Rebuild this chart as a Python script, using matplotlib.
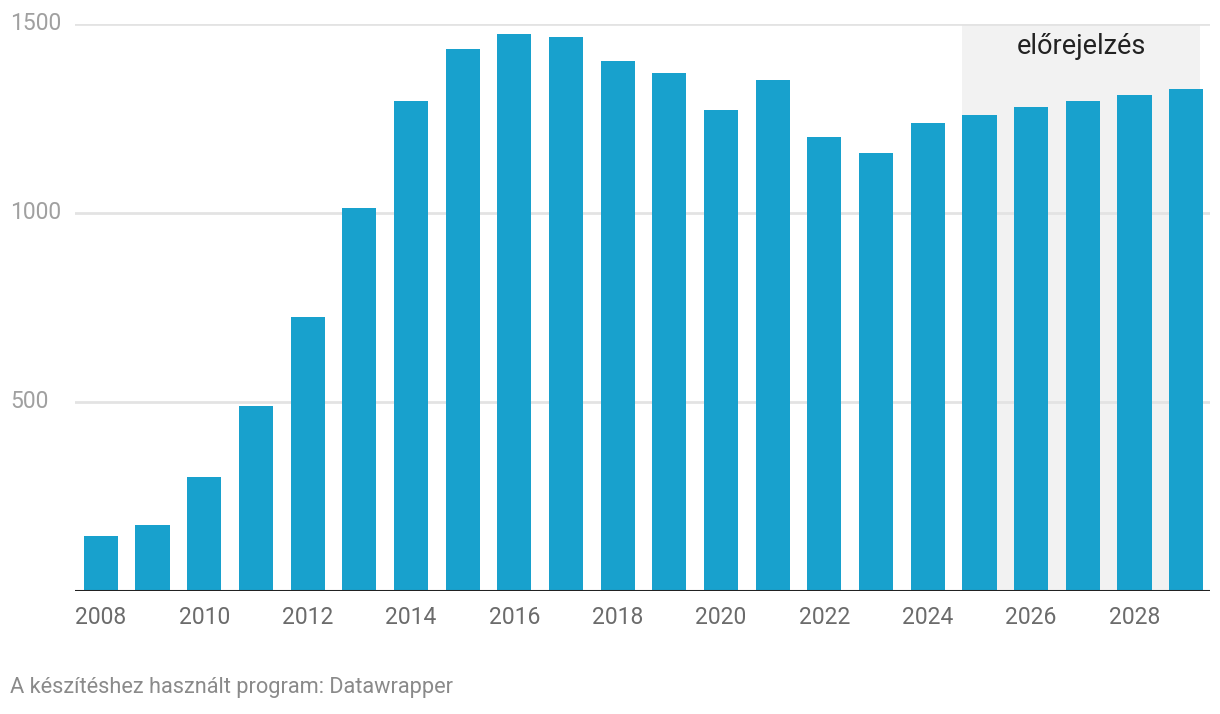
import numpy as np
import matplotlib.pyplot as plt
from matplotlib.transforms import blended_transform_factory

plt.rcParams['font.family'] = ['Roboto', 'DejaVu Sans']

years = list(range(2008, 2030))
values = [145, 175, 302, 489, 725, 1013, 1296, 1434, 1474, 1466, 1402,
          1370, 1272, 1352, 1201, 1159, 1238, 1259, 1280, 1296, 1312, 1328]
tick_years = [2008, 2010, 2012, 2014, 2016, 2018, 2020, 2022, 2024, 2026, 2028]
y_ticks = [500, 1000, 1500]
forecast_start = 2025
forecast_label = "előrejelzés"
footer = "A készítéshez használt program: Datawrapper"

fig = plt.figure(figsize=(12.2, 7.14), dpi=100)
ax = fig.add_axes([75 / 1220, 1 - 591 / 714, 1135 / 1220, 567 / 714])

x = np.arange(len(years))
bw = 0.66

# forecast shading
fs = years.index(forecast_start)
x0, x1 = fs - bw / 2, x[-1] + 0.27
ax.axvspan(x0, x1, color='#f2f2f2', zorder=0, lw=0)
ax.text((x0 + x1) / 2, 1440, forecast_label, ha='center', va='center',
        fontsize=19.5, color='#222222')

for yv in y_ticks:
    ax.axhline(yv, color='#e3e3e3', lw=2, zorder=1)

ax.bar(x, values, width=bw, color='#18a1cd', zorder=2)
ax.axhline(0, color='#222222', lw=2.2, zorder=3)

ax.set_xlim(-0.5, 21.46)
ax.set_ylim(0, 1500)
ax.set_xticks([years.index(t) for t in tick_years])
ax.set_xticklabels([str(t) for t in tick_years], fontsize=16.5, color='#6b6b6b')
ax.set_yticks([])

# y labels sit at the far left edge of the figure
ylab_tr = blended_transform_factory(fig.transFigure, ax.transData)
for yv in y_ticks:
    ax.text(10 / 1220, yv, str(yv), transform=ylab_tr, ha='left', va='center',
            fontsize=16.5, color='#a0a0a0')

ax.tick_params(axis='x', length=0, pad=11)
for s in ax.spines.values():
    s.set_visible(False)

fig.text(10 / 1220, 1 - 688 / 714, footer, fontsize=15.7, color='#8a8a8a', ha='left', va='center')

fig.savefig('out.png', dpi=100)
